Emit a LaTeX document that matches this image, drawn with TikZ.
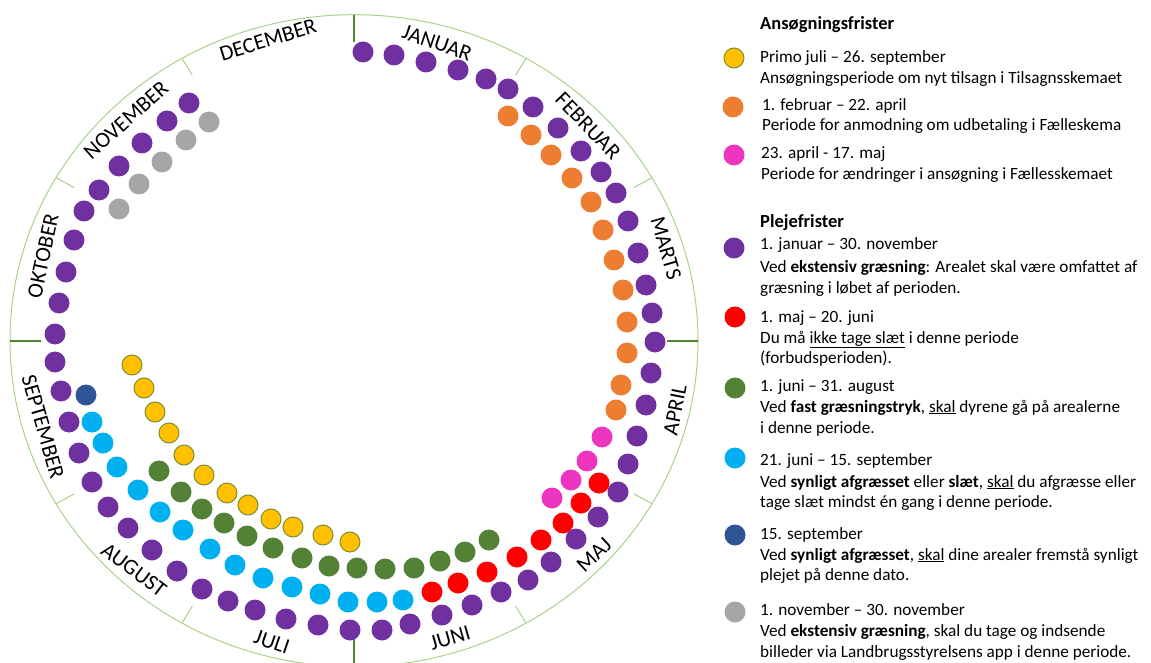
\documentclass[tikz,border=0pt]{standalone}
\usepackage{fontspec}
\setmainfont{Carlito}
\definecolor{cpurple}{HTML}{7030A0}
\definecolor{corange}{HTML}{ED7D31}
\definecolor{cpink}{HTML}{EE35C0}
\definecolor{cred}{HTML}{FF0000}
\definecolor{cgreen}{HTML}{538135}
\definecolor{ccyan}{HTML}{00B0F0}
\definecolor{cdblue}{HTML}{2F5597}
\definecolor{cgray}{HTML}{A6A6A6}
\definecolor{cyellow}{HTML}{FFC000}
\definecolor{colive}{HTML}{7F8E30}
\definecolor{cring}{HTML}{A9D18E}
\definecolor{ctick}{HTML}{548235}
\begin{document}
\begin{tikzpicture}[x=1pt,y=-1pt,
  gdot/.style={circle, minimum size=21pt, inner sep=0pt, draw=none, fill=#1},
  ydot/.style={circle, minimum size=20pt, inner sep=0pt, draw=colive, line width=1pt, fill=cyellow},
  mlabel/.style={inner sep=0pt, font=\fontsize{22}{24}\selectfont},
  lgtext/.style={anchor=base west, inner sep=0pt, font=\fontsize{17.2}{20}\selectfont},
  lgtitle/.style={anchor=base west, inner sep=0pt, font=\fontsize{18.5}{20}\selectfont\bfseries},
  ringline/.style={draw=cring, line width=1pt},
  thintick/.style={draw=cring, line width=1pt},
  thicktick/.style={draw=ctick, line width=2.4pt}
]
\useasboundingbox (0,0) rectangle (1151,663);
\clip (0,0) rectangle (1151,663);
\coordinate (ctr) at (354,340.7);
\draw[ringline] (ctr) ellipse [x radius=344pt, y radius=326pt];
% thin month ticks
\foreach \t [count=\i] in {60,30,-30,-60,-120,-150,150,120} {
  \coordinate (ta\i) at ({354+344*0.94*cos(\t)},{340.7-326*0.94*sin(\t)});
  \coordinate (tb\i) at ({354+344*cos(\t)},{340.7-326*sin(\t)});
  \draw[thintick] (ta\i) -- (tb\i);
}
% thick quarter ticks
\foreach \t [count=\i] in {90,0,-90,180} {
  \coordinate (qa\i) at ({354+344*0.91*cos(\t)},{340.7-326*0.915*sin(\t)});
  \coordinate (qb\i) at ({354+344*cos(\t)},{340.7-326*sin(\t)});
  \draw[thicktick] (qa\i) -- (qb\i);
}
% month labels
\node[mlabel, rotate=-19] (mjan) at (437,43) {JANUAR};
\node[mlabel, rotate=-46] (mfeb) at (588,126) {FEBRUAR};
\node[mlabel, rotate=-74] (mmar) at (666,248) {MARTS};
\node[mlabel, rotate=79] (mapr) at (675,410) {APRIL};
\node[mlabel, rotate=43] (mmaj) at (594,555) {MAJ};
\node[mlabel, rotate=16] (mjun) at (450,638) {JUNI};
\node[mlabel, rotate=-19] (mjul) at (272,642) {JULI};
\node[mlabel, rotate=-37] (maug) at (134,570) {AUGUST};
\node[mlabel, rotate=-74] (msep) at (43,427) {SEPTEMBER};
\node[mlabel, rotate=78] (mokt) at (43,256) {OKTOBER};
\node[mlabel, rotate=42] (mnov) at (126,120) {NOVEMBER};
\node[mlabel, rotate=17] (mdec) at (268,40) {DECEMBER};
% purple ring
\foreach \x/\y [count=\i] in {363/52,394/55,426/62,458/70,486/79,508/89,533/107,558/128,581/151,601/172,616/193,628/221,638/253,646/285,652/313,655/342,651/373,646/405,637/436,628/464,618/492,598/517,576/539,551/562,528/580,501/592,472/605,442/615,410/624,382/630,350/630,318/625,286/619,255/610,228/601,202/589,177/571,152/550,128/528,108/507,92/482,79/453,69/422,61/391,55/362,55/334,59/303,66/272,74/240,84/211,99/190,119/166,142/143,167/121,189/103}
  \node[gdot=cpurple] (pu\i) at (\x,\y) {};
% orange
\foreach \x/\y [count=\i] in {508/116,531/135,551/155,572/178,591/202,603/230,614/260,623/290,627/322,627/353,621/385,616/410}
  \node[gdot=corange] (or\i) at (\x,\y) {};
% pink
\foreach \x/\y [count=\i] in {602/437,587/461,571/480,552/498}
  \node[gdot=cpink] (pk\i) at (\x,\y) {};
% red
\foreach \x/\y [count=\i] in {599/483,581/503,563/523,541/540,517/557,487/572,458/583,432/592}
  \node[gdot=cred] (rd\i) at (\x,\y) {};
% green
\foreach \x/\y [count=\i] in {489/540,465/552,440/561,414/568,385/569,357/568,329/566,302/558,273/548,247/536,224/523,202/509,181/492,159/471}
  \node[gdot=cgreen] (gr\i) at (\x,\y) {};
% cyan
\foreach \x/\y [count=\i] in {403/600,377/602,348/602,320/594,292/587,263/578,235/565,210/549,183/530,160/512,138/490,117/467,103/443,92/422}
  \node[gdot=ccyan] (cy\i) at (\x,\y) {};
% yellow
\foreach \x/\y [count=\i] in {350/542,323/535,293/527,271/519,248/505,227/493,204/475,184/455,169/433,155/412,144/388,132/365}
  \node[ydot] (ye\i) at (\x,\y) {};
% gray
\foreach \x/\y [count=\i] in {209/122,186/140,162/162,139/184,119/209}
  \node[gdot=cgray] (gy\i) at (\x,\y) {};
% dark blue
\node[gdot=cdblue] (db1) at (86,395) {};

% legend
\node[lgtitle] (h1) at (760,30) {Ansøgningsfrister};
\node[ydot] (lye) at (734,58) {};
\node[lgtext] (l1a) at (760,63) {Primo juli – 26. september};
\node[lgtext] (l1b) at (760,83.5) {Ansøgningsperiode om nyt tilsagn i Tilsagnsskemaet};
\node[gdot=corange] (lor) at (733,107) {};
\node[lgtext] (l2a) at (762,111) {1. februar – 22. april};
\node[lgtext] (l2b) at (762,131) {Periode for anmodning om udbetaling i Fælleskema};
\node[gdot=cpink] (lpk) at (734,155) {};
\node[lgtext] (l3a) at (761,158.5) {23. april - 17. maj};
\node[lgtext] (l3b) at (761,179.5) {Periode for ændringer i ansøgning i Fællesskemaet};

\node[lgtitle] (h2) at (760,227) {Plejefrister};
\node[gdot=cpurple] (lpu) at (734,248) {};
\node[lgtext] (l4a) at (760,250) {1. januar – 30. november};
\node[lgtext] (l4b) at (760,272) {Ved \textbf{ekstensiv græsning}: Arealet skal være omfattet af};
\node[lgtext] (l4c) at (760,293) {græsning i løbet af perioden.};
\node[gdot=cred] (lrd) at (735,317) {};
\node[lgtext] (l5a) at (760,322) {1. maj – 20. juni};
\node[lgtext] (l5b) at (760,343) {Du må \underline{ikke tage slæt} i denne periode};
\node[lgtext] (l5c) at (760,363) {(forbudsperioden).};
\node[gdot=cgreen] (lgr) at (735,388) {};
\node[lgtext] (l6a) at (760,391) {1. juni – 31. august};
\node[lgtext] (l6b) at (760,412) {Ved \textbf{fast græsningstryk}, \underline{skal} dyrene gå på arealerne};
\node[lgtext] (l6c) at (760,433) {i denne periode.};
\node[gdot=ccyan] (lcy) at (735,458) {};
\node[lgtext] (l7a) at (760,465) {21. juni – 15. september};
\node[lgtext] (l7b) at (760,487) {Ved \textbf{synligt afgræsset} eller \textbf{slæt}, \underline{skal} du afgræsse eller};
\node[lgtext] (l7c) at (760,507) {tage slæt mindst én gang i denne periode.};
\node[gdot=cdblue] (ldb) at (735,535) {};
\node[lgtext] (l8a) at (760,539) {15. september};
\node[lgtext] (l8b) at (760,560) {Ved \textbf{synligt afgræsset}, \underline{skal} dine arealer fremstå synligt};
\node[lgtext] (l8c) at (760,580) {plejet på denne dato.};
\node[gdot=cgray] (lgy) at (735,612) {};
\node[lgtext] (l9a) at (760,615) {1. november – 30. november};
\node[lgtext] (l9b) at (760,636) {Ved \textbf{ekstensiv græsning}, skal du tage og indsende};
\node[lgtext] (l9c) at (760,657) {billeder via Landbrugsstyrelsens app i denne periode.};
\end{tikzpicture}
\end{document}
